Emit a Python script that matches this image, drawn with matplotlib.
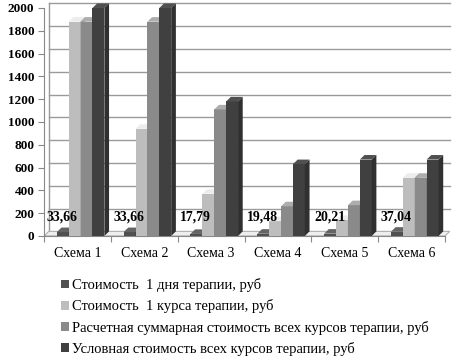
import matplotlib.pyplot as plt
from matplotlib.patches import Polygon, Patch
import numpy as np

# Data
schemes = ["Схема 1", "Схема 2", "Схема 3", "Схема 4", "Схема 5", "Схема 6"]
day_cost = [33.66, 33.66, 17.79, 19.48, 20.21, 37.04]
course_cost = [1880, 940, 370, 130, 140, 510]
total_calc = [1880, 1880, 1110, 260, 270, 510]
total_cond = [2000, 2000, 1180, 630, 670, 670]
day_labels = ["33,66", "33,66", "17,79", "19,48", "20,21", "37,04"]
series_names = [
    "Стоимость  1 дня терапии, руб",
    "Стоимость  1 курса терапии, руб",
    "Расчетная суммарная стоимость всех курсов терапии, руб",
    "Условная стоимость всех курсов терапии, руб",
]
colors = ["#505050", "#bdbdbd", "#8a8a8a", "#404040"]

plt.rcParams['font.family'] = ['Liberation Serif', 'DejaVu Serif']

fig = plt.figure(figsize=(4.69, 3.63), dpi=100)
ax = fig.add_axes([0.094, 0.35, 0.855, 0.628])
ax.set_xlim(0, 6)
ax.set_ylim(0, 2000)

# 3D depth in data units (about 5 px each way)
dx = 0.07
dy = 40

# back wall gridlines
for g in range(200, 2001, 200):
    ax.plot([dx, 6 + dx], [g + dy, g + dy], color="#9a9a9a", lw=1, zorder=1, clip_on=False)
ax.plot([dx, dx], [dy, 2000 + dy], color="#9a9a9a", lw=1, zorder=1, clip_on=False)

# floor
floor = Polygon([(0, 0), (6, 0), (6 + dx, dy), (dx, dy)], closed=True,
                facecolor="#eeeeee", edgecolor="#b0b0b0", lw=0.8, zorder=1, clip_on=False)
ax.add_patch(floor)


def shade(c, f):
    r, g, b = [int(c[i:i + 2], 16) for i in (1, 3, 5)]
    return (min(r * f, 255) / 255, min(g * f, 255) / 255, min(b * f, 255) / 255)


width = 0.178
series = [day_cost, course_cost, total_calc, total_cond]
x = np.arange(len(schemes))
for k, vals in enumerate(series):
    for i, v in enumerate(vals):
        x0 = x[i] + 0.19 + k * width
        ax.bar(x0, v, width, align="edge", color=colors[k], zorder=3 + k, clip_on=False)
        top = Polygon([(x0, v), (x0 + width, v), (x0 + width + dx, v + dy), (x0 + dx, v + dy)],
                      closed=True, facecolor=shade(colors[k], 1.25), edgecolor="none",
                      zorder=3 + k, clip_on=False)
        side = Polygon([(x0 + width, 0), (x0 + width + dx, dy), (x0 + width + dx, v + dy),
                        (x0 + width, v)],
                       closed=True, facecolor=shade(colors[k], 0.75), edgecolor="none",
                       zorder=3 + k, clip_on=False)
        ax.add_patch(top)
        ax.add_patch(side)

for i, lab in enumerate(day_labels):
    ax.text(x[i] + 0.27, 170, lab, ha="center", va="center", fontsize=10,
            fontweight="bold", zorder=10)

ax.set_yticks(range(0, 2001, 200))
ax.set_yticklabels([str(t) for t in range(0, 2001, 200)], fontsize=9.5, fontweight="bold")
ax.set_xticks(np.arange(0, 7))
ax.set_xticklabels([])
ax.set_xticks(x + 0.5, minor=True)
ax.set_xticklabels(schemes, minor=True, fontsize=10)
ax.tick_params(axis="x", which="minor", length=0, pad=8)
ax.tick_params(axis="x", which="major", length=4, color="#888888")
ax.tick_params(axis="y", length=4, color="#888888", pad=3)

for s in ["top", "right"]:
    ax.spines[s].set_visible(False)
ax.spines["left"].set_color("#888888")
ax.spines["bottom"].set_color("#888888")

handles = [Patch(facecolor=c, edgecolor="none") for c in colors]
fig.legend(handles, series_names, loc="upper left", bbox_to_anchor=(0.115, 0.254),
           frameon=False, fontsize=10.5, handlelength=0.55, handleheight=0.55,
           handletextpad=0.2, labelspacing=0.5, borderpad=0)

fig.savefig("out.png", dpi=100)
